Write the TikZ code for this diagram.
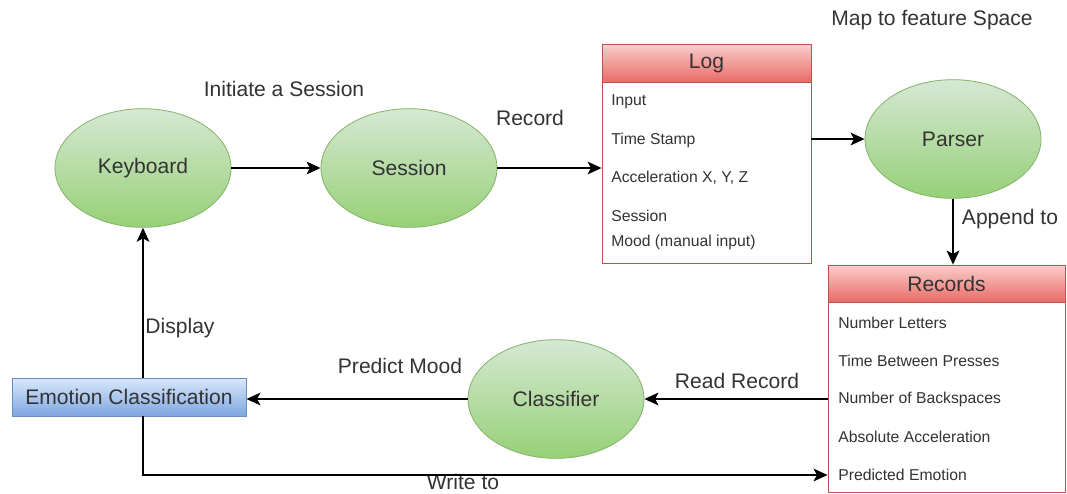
\documentclass[tikz,border=0pt]{standalone}
\usepackage{fontspec}
\setmainfont{Liberation Sans}
\usetikzlibrary{shapes.geometric,arrows.meta}
\definecolor{txt}{HTML}{333333}
\definecolor{gtop}{HTML}{D5E8D4}
\definecolor{gbot}{HTML}{97D077}
\definecolor{gstroke}{HTML}{82B366}
\definecolor{rtop}{HTML}{F8CECC}
\definecolor{rbot}{HTML}{EA6B66}
\definecolor{rstroke}{HTML}{B85450}
\definecolor{btop}{HTML}{DAE8FC}
\definecolor{bbot}{HTML}{7EA6E0}
\definecolor{bstroke}{HTML}{6C8EBF}
\begin{document}
\begin{tikzpicture}[x=0.75pt,y=-0.75pt,
  big/.style={font=\fontsize{15.8}{18}\selectfont, text=txt},
  small/.style={font=\fontsize{11.8}{14}\selectfont, text=txt},
  proc/.style={ellipse, draw=gstroke, line width=0.6pt, top color=gtop, bottom color=gbot,
    minimum width=132pt, minimum height=89pt, inner sep=0pt, big},
  hdr/.style={rectangle, draw=rstroke, line width=0.6pt, top color=rtop, bottom color=rbot,
    inner sep=0pt, big},
  bodybox/.style={rectangle, draw=rstroke, line width=0.6pt, fill=white, inner sep=0pt},
  item/.style={small, anchor=west, inner sep=0pt},
  lbl/.style={big, inner sep=0pt},
  conn/.style={line width=1.5pt, -{Stealth[length=10.5pt,width=9.5pt,inset=2.5pt]}}
]
\useasboundingbox (0,0) rectangle (1067,493);
\fill[white] (0,0) rectangle (1067,493);

% ellipses
\node[proc] (kb) at (143,168) {Keyboard};
\node[proc] (ses) at (409,168) {Session};
\node[proc] (par) at (953,139) {Parser};
\node[proc] (cls) at (556,399) {Classifier};

% Log box
\node[bodybox, minimum width=156.75pt, minimum height=135.75pt] (logb) at (706.5,172.5) {};
\node[hdr, minimum width=156.75pt, minimum height=28.5pt] (logh) at (706.5,63) {Log};
\node[item] (l1) at (611,102) {Input};
\node[item] (l2) at (611,140) {Time Stamp};
\node[item] (l3) at (611,178) {Acceleration X, Y, Z};
\node[item] (l4) at (611,216) {Session};
\node[item] (l5) at (611,242) {Mood (manual input)};

% Records box
\node[bodybox, minimum width=177.75pt, minimum height=142.5pt] (recb) at (946.5,397) {};
\node[hdr, minimum width=177.75pt, minimum height=27.75pt] (rech) at (946.5,283.5) {Records};
\node[item] (r1) at (838,323) {Number Letters};
\node[item] (r2) at (838,361) {Time Between Presses};
\node[item] (r3) at (838,399) {Number of Backspaces};
\node[item] (r4) at (838,437) {Absolute Acceleration};
\node[item] (r5) at (838,475) {Predicted Emotion};

% Emotion classification
\node[rectangle, draw=bstroke, line width=0.6pt, top color=btop, bottom color=bbot,
  minimum width=175.5pt, minimum height=28.5pt, inner sep=0pt, big] (emo) at (129,397) {Emotion Classification};

% labels
\node[lbl] (t1) at (284,89) {Initiate a Session};
\node[lbl] (t2) at (530,118) {Record};
\node[lbl] (t3) at (932,20) {Map to feature Space};
\node[lbl] (t4) at (1010,219) {Append to};
\node[lbl] (t5) at (180,328) {Display};
\node[lbl] (t6) at (400,366) {Predict Mood};
\node[lbl] (t7) at (737,381) {Read Record};
\node[lbl, anchor=base] (t8) at (463,489) {Write to};

% connectors
\draw[conn] (kb.east) -- (ses.west);
\draw[conn] (ses.east) -- (logb.west |- ses.east);
\draw[conn] (logb.east |- par.west) -- (par.west);
\draw[conn] (par.south) -- (rech.north -| par.south);
\draw[conn] (recb.west |- cls.east) -- (cls.east);
\draw[conn] (cls.west) -- (emo.east |- cls.west);
\draw[conn] (emo.north -| kb.south) -- (kb.south);
\draw[conn] (emo.south -| kb.south) |- (recb.west |- r5);
\end{tikzpicture}
\end{document}
